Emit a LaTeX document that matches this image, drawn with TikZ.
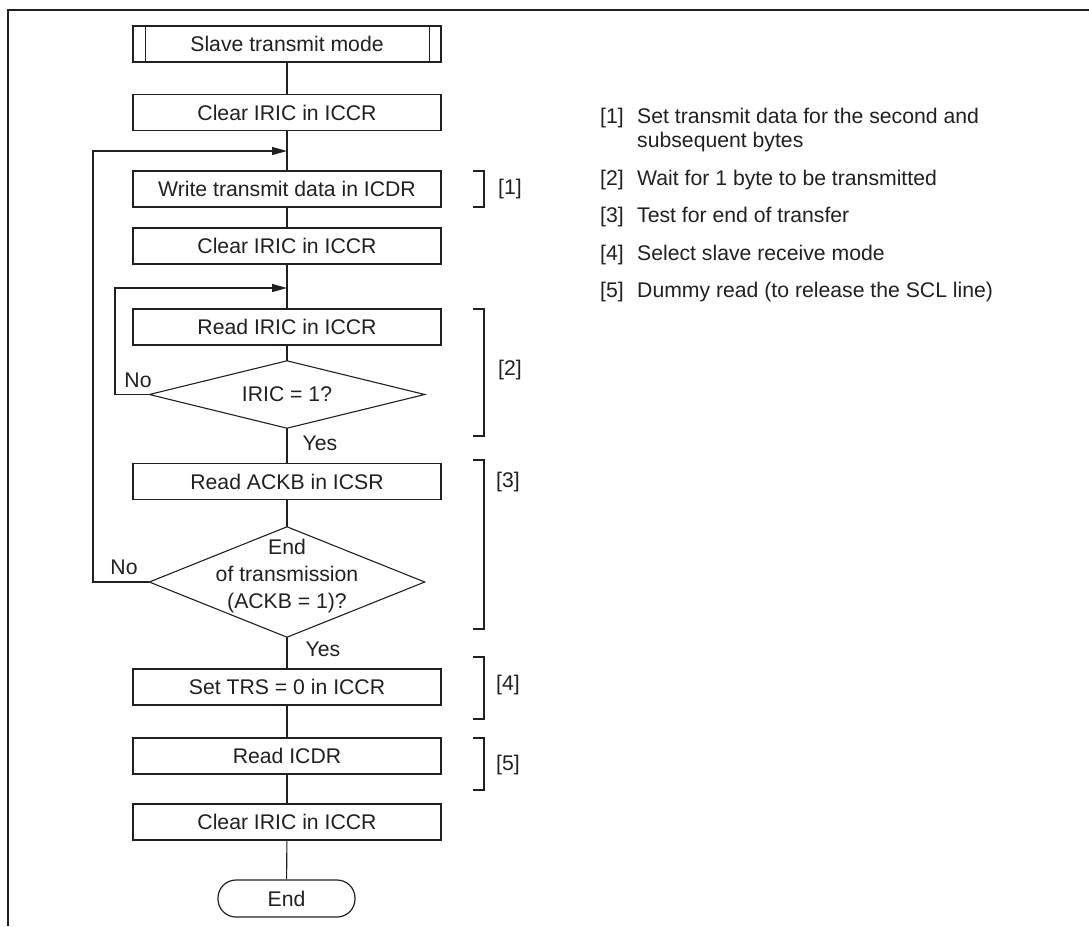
\documentclass[tikz,border=0pt]{standalone}
\usepackage{fontspec}
\setmainfont{Liberation Sans}
\usetikzlibrary{arrows.meta}
\definecolor{ink}{HTML}{231F20}
\begin{document}
\begin{tikzpicture}[x=1pt,y=-1pt,
  every node/.style={font=\fontsize{21.2}{27}\selectfont, text=ink},
  proc/.style={draw=ink, line width=1.2pt, minimum width=308pt, minimum height=36pt, inner sep=0pt},
  flow/.style={draw=ink, line width=1.1pt},
  arr/.style={flow, -{Triangle[length=15pt,width=8pt]}},
  brk/.style={draw=ink, line width=1.1pt},
  note/.style={anchor=base west, inner sep=0pt},
  lbl/.style={inner sep=0pt},
]
\useasboundingbox (0,0) rectangle (1089,926);
\draw[ink, line width=2.6pt] (8,926) -- (8,10) -- (1089,10);

% flowchart nodes
\node[proc] (start) at (287,44) {Slave transmit mode};
\draw[flow] ([xshift=13pt]start.north west) -- ([xshift=13pt]start.south west);
\draw[flow] ([xshift=-12pt]start.north east) -- ([xshift=-12pt]start.south east);
\node[proc] (c1) at (287,112.5) {Clear IRIC in ICCR};
\node[proc] (w) at (287,189) {Write transmit data in ICDR};
\node[proc] (c2) at (287,246) {Clear IRIC in ICCR};
\node[proc] (r1) at (287,327) {Read IRIC in ICCR};
\node[minimum width=275pt, minimum height=67pt, inner sep=0pt] (d1) at (287,394.5) {IRIC = 1?};
\draw[flow] (d1.north) -- (d1.east) -- (d1.south) -- (d1.west) -- cycle;
\node[proc] (r2) at (287,481.5) {Read ACKB in ICSR};
\node[minimum width=275pt, minimum height=110pt, inner sep=0pt] (d2) at (287,582) {};
\draw[flow] (d2.north) -- (d2.east) -- (d2.south) -- (d2.west) -- cycle;
\node[align=center, inner sep=0pt] (d2t) at (287,576) {End\\of transmission\\(ACKB = 1)?};
\node[proc] (s) at (287,687) {Set TRS = 0 in ICCR};
\node[proc] (rd) at (287,756) {Read ICDR};
\node[proc] (c3) at (287,822) {Clear IRIC in ICCR};
\node[draw=ink, line width=1.2pt, rounded corners=18pt, minimum width=137pt, minimum height=37pt, inner sep=0pt] (e) at (286.5,898.5) {End};

% junctions
\coordinate (j1) at (287,151);
\coordinate (j2) at (287,288);
\coordinate (l1) at (93,151);
\coordinate (l2) at (115,288);

% connectors
\draw[flow] (start) -- (c1);
\draw[flow] (c1) -- (w);
\draw[flow] (w) -- (c2);
\draw[flow] (c2) -- (r1);
\draw[flow] (r1) -- (d1.north);
\draw[flow] (d1.south) -- (r2);
\draw[flow] (r2) -- (d2.north);
\draw[flow] (d2.south) -- (s);
\draw[flow] (s) -- (rd);
\draw[flow] (rd) -- (c3);
\draw[flow] (c3) -- (e);
\draw[arr] (d1.west) -| (l2) -- (j2);
\draw[arr] (d2.west) -| (l1) -- (j1);

% yes/no labels
\node[lbl] (no1) at (138,380) {No};
\node[lbl] (yes1) at (320,443) {Yes};
\node[lbl] (no2) at (124,567) {No};
\node[lbl] (yes2) at (323,649) {Yes};

% brackets
\draw[brk] (473,171) -- (484,171) -- (484,207) -- (473,207);
\draw[brk] (473,309) -- (484,309) -- (484,436) -- (473,436);
\draw[brk] (473,460) -- (484,460) -- (484,629) -- (473,629);
\draw[brk] (473,657) -- (484,657) -- (484,719) -- (473,719);
\draw[brk] (473,738) -- (484,738) -- (484,790) -- (473,790);
\node[lbl] (b1) at (510,189) {[1]};
\node[lbl] (b2) at (510,370) {[2]};
\node[lbl] (b3) at (508,482) {[3]};
\node[lbl] (b4) at (508,685) {[4]};
\node[lbl] (b5) at (508,765) {[5]};

% notes
\node[note] (n1) at (600,123) {[1]};
\node[note] (t1) at (637,123) {Set transmit data for the second and};
\node[note] (t1b) at (637,147) {subsequent bytes};
\node[note] (n2) at (600,185) {[2]};
\node[note] (t2) at (637,185) {Wait for 1 byte to be transmitted};
\node[note] (n3) at (600,222) {[3]};
\node[note] (t3) at (637,222) {Test for end of transfer};
\node[note] (n4) at (600,260) {[4]};
\node[note] (t4) at (637,260) {Select slave receive mode};
\node[note] (n5) at (600,297) {[5]};
\node[note] (t5) at (637,297) {Dummy read (to release the SCL line)};
\end{tikzpicture}
\end{document}
